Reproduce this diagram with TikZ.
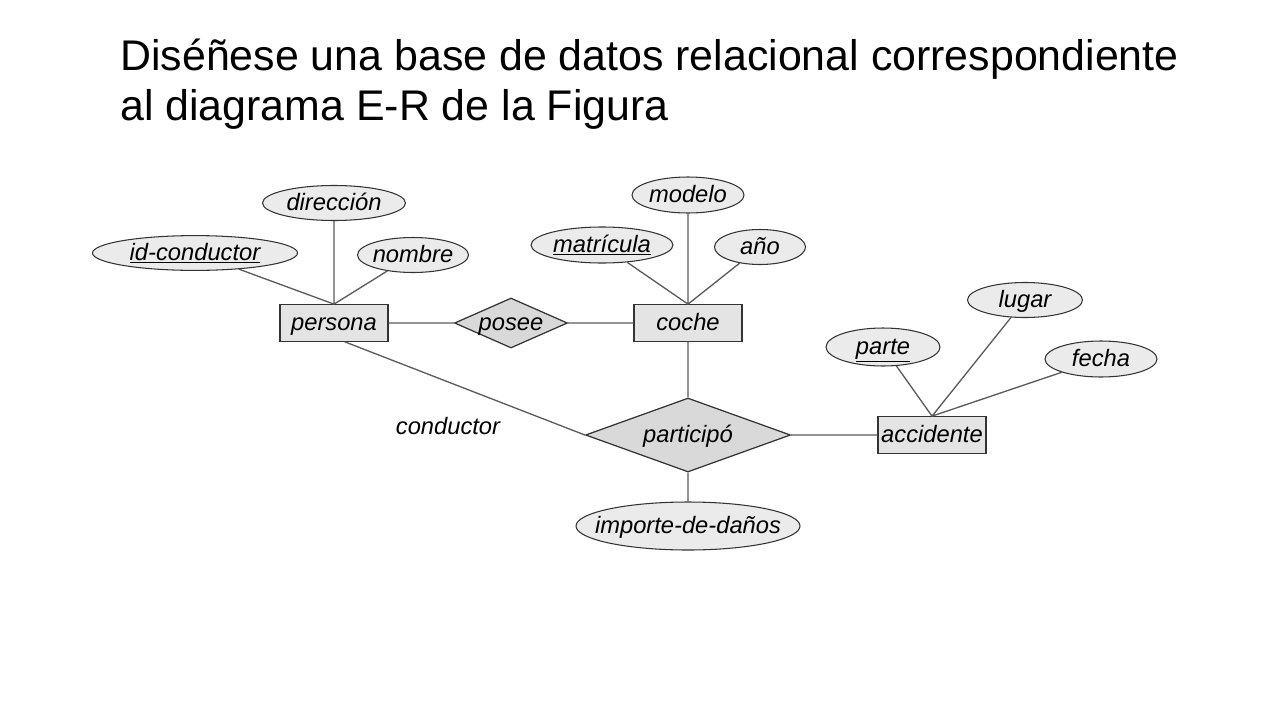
\documentclass[tikz,border=0pt]{standalone}
\usepackage{fontspec}
\setmainfont{Liberation Sans}
\usetikzlibrary{shapes.geometric,positioning}

\definecolor{entfill}{HTML}{E4E4E4}
\definecolor{attfill}{HTML}{EBEBEB}
\definecolor{relfill}{HTML}{D9D9D9}
\definecolor{edge}{HTML}{333333}
\definecolor{link}{HTML}{5A5A5A}

\tikzset{
	label font/.style={font=\fontsize{13.5}{15}\selectfont\itshape,text height=11pt,text depth=3pt},
	entity/.style={draw=edge,fill=entfill,line width=0.7pt,rectangle,minimum width=2.16cm,minimum height=0.73cm,inner sep=1pt,label font},
	attr/.style={draw=edge,fill=attfill,line width=0.6pt,ellipse,inner ysep=0pt,inner xsep=-0.4cm,label font},
	rel/.style={draw=edge,fill=relfill,line width=0.7pt,diamond,inner sep=-3pt,label font},
	conn/.style={draw=link,line width=0.75pt}
}

\begin{document}
\begin{tikzpicture}[node distance=2cm,on grid]
	\useasboundingbox (0,0) rectangle (25.6,-14.4);
	\node[anchor=base west,inner sep=0pt,font=\fontsize{24.4}{29}\selectfont](title) at (2.4,-1.4) {Diséñese una base de datos relacional correspondiente};
	\node[anchor=base west,inner sep=0pt,font=\fontsize{24.4}{29}\selectfont](title2) at (2.4,-2.4) {al diagrama E-R de la Figura};
	% entities and relations
	\node[entity](persona) at (6.68,-6.46) {persona};
	\node[rel,aspect=2.26,minimum width=2.26cm,minimum height=1.0cm](posee)[right=3.54cm of persona] {posee};
	\node[entity](coche)[right=3.54cm of posee] {coche};
	\node[rel,aspect=2.77,minimum width=4.1cm,minimum height=1.48cm](particip)[below=2.24cm of coche] {participó};
	\node[entity](accidente)[right=4.88cm of particip] {accidente};
	% attributes
	\node[attr,minimum width=2.86cm,minimum height=0.7cm](direccion)[above=2.4cm of persona] {dirección};
	\node[attr,minimum width=4.1cm,minimum height=0.68cm](idcond)[above left=1.4cm and 2.78cm of persona] {\underline{id-conductor}};
	\node[attr,minimum width=2.22cm,minimum height=0.7cm](nombre)[above right=1.36cm and 1.58cm of persona] {nombre};
	\node[attr,minimum width=2.24cm,minimum height=0.72cm](modelo)[above=2.56cm of coche] {modelo};
	\node[attr,minimum width=2.84cm,minimum height=0.72cm](matricula)[above left=1.56cm and 1.72cm of coche] {\underline{matrícula}};
	\node[attr,minimum width=1.82cm,minimum height=0.7cm](anio)[above right=1.52cm and 1.44cm of coche] {año};
	\node[attr,minimum width=2.28cm,minimum height=0.76cm](parte)[above left=1.76cm and 0.98cm of accidente] {\underline{parte}};
	\node[attr,minimum width=2.3cm,minimum height=0.7cm](lugar)[above right=2.7cm and 1.86cm of accidente] {lugar};
	\node[attr,minimum width=2.24cm,minimum height=0.72cm](fecha)[above right=1.52cm and 3.38cm of accidente] {fecha};
	\node[attr,minimum width=4.48cm,minimum height=0.96cm](importe)[below=1.82cm of particip] {importe-de-daños};
	\node[label font](conductor)[above left=0.16cm and 4.8cm of particip] {conductor};
	% connectors
	\path[conn]
	(idcond) -- (persona.north)
	(direccion) -- (persona.north)
	(nombre) -- (persona.north)
	(matricula) -- (coche.north)
	(modelo) -- (coche.north)
	(anio) -- (coche.north)
	(parte) -- (accidente.north)
	(lugar) -- (accidente.north)
	(fecha) -- (accidente.north)
	(persona) -- (posee)
	(posee) -- (coche)
	(coche) -- (particip)
	(persona.-60) -- (particip.west)
	(particip) -- (accidente)
	(particip) -- (importe);
\end{tikzpicture}
\end{document}
